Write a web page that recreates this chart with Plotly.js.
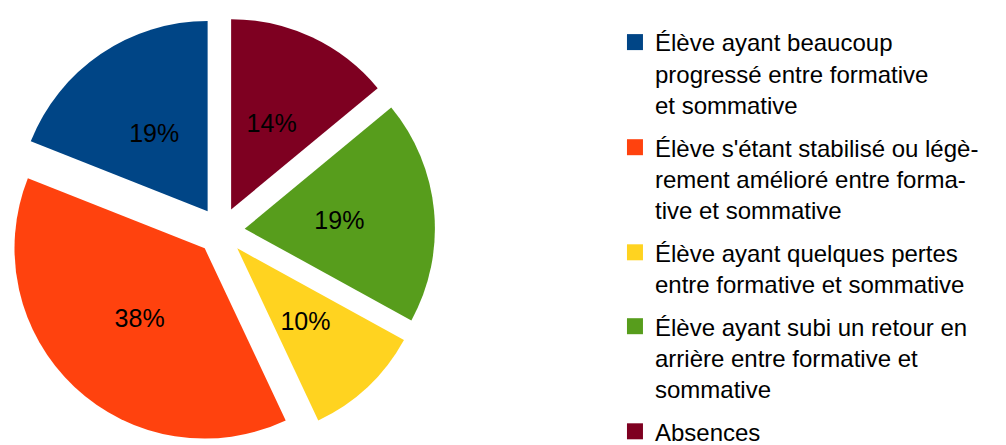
<!DOCTYPE html>
<html>
<head>
<meta charset="utf-8">
<script src="https://cdn.plot.ly/plotly-3.0.1.min.js"></script>
<style>html,body{margin:0;padding:0;background:#fff;overflow:hidden;}#chart{width:1006px;height:470px;}</style>
</head>
<body>
<div id="chart"></div>
<script>
// Categories (legend order) and values
const categories = [
  "Élève ayant beaucoup<br>progressé entre formative<br>et sommative",
  "Élève s'étant stabilisé ou légè-<br>rement amélioré entre forma-<br>tive et sommative",
  "Élève ayant quelques pertes<br>entre formative et sommative",
  "Élève ayant subi un retour en<br>arrière entre formative et<br>sommative",
  "Absences"
];
const values = [19, 38, 10, 19, 14];
const colors = ["#004586", "#ff420e", "#ffd320", "#579d1c", "#7e0021"];

const FONT = '"Liberation Sans", Arial, sans-serif';
const W = 1006, H = 470;

// main pie (slices)
const pie = {
  type: 'pie',
  labels: categories,
  values: values,
  sort: false,
  direction: 'counterclockwise',
  rotation: -68.4,
  pull: 0.125,
  marker: {colors: colors, line: {width: 0}},
  textinfo: 'none',
  showlegend: false,
  domain: {x: [7 / W, 435 / W], y: [1 - 445 / H, 1 - 17 / H]},
  hoverinfo: 'label+percent'
};

// transparent ring pie carrying the percentage labels nearer the slice middles
const labelPie = {
  type: 'pie',
  labels: categories,
  values: values,
  sort: false,
  direction: 'counterclockwise',
  rotation: -68.4,
  pull: 24 / 130,
  hole: 0.46,
  marker: {colors: colors.map(() => 'rgba(0,0,0,0)'), line: {width: 0}},
  textinfo: 'percent',
  texttemplate: '%{percent:.0%}',
  textposition: 'inside',
  insidetextorientation: 'horizontal',
  textfont: {family: FONT, size: 25, color: '#000000'},
  showlegend: false,
  domain: {x: [(221 - 154) / W, (221 + 154) / W], y: [1 - (231 + 154) / H, 1 - (231 - 154) / H]},
  hoverinfo: 'skip'
};

const legendTraces = categories.map((c, i) => ({
  type: 'scatter',
  mode: 'markers',
  x: [null], y: [null],
  name: c,
  legendgroup: 'g' + i,
  marker: {symbol: 'square', size: 16, color: colors[i]},
  showlegend: true,
  hoverinfo: 'skip'
}));

const layout = {
  width: W, height: H,
  margin: {l: 0, r: 0, t: 0, b: 0},
  paper_bgcolor: '#ffffff',
  plot_bgcolor: 'rgba(0,0,0,0)',
  font: {family: FONT, color: '#000000'},
  xaxis: {visible: false},
  yaxis: {visible: false},
  showlegend: true,
  legend: {
    x: 0.6113, xanchor: 'left',
    y: 1 - 20 / H, yanchor: 'top',
    valign: 'top',
    traceorder: 'grouped',
    tracegroupgap: 8.5,
    font: {family: FONT, size: 24, color: '#000000'},
    bgcolor: 'rgba(0,0,0,0)',
    borderwidth: 0
  }
};

Plotly.newPlot('chart', [pie, labelPie].concat(legendTraces), layout, {displayModeBar: false, staticPlot: true});
</script>
</body>
</html>
